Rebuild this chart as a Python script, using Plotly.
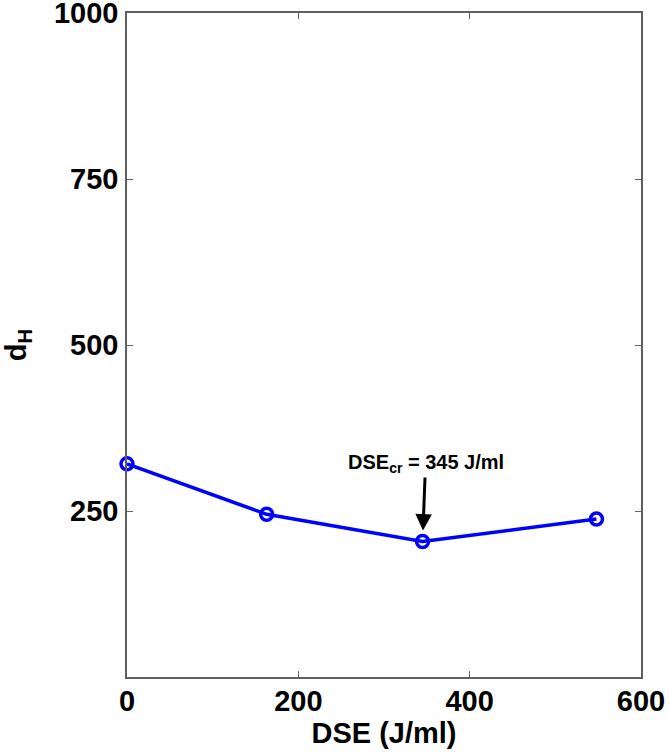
import plotly.graph_objects as go

# DSE (J/ml) vs d_H
dse = [0, 163, 345, 548]
d_h = [321, 245, 204, 238]

x_ticks = [0, 200, 400, 600]
y_ticks = [250, 500, 750, 1000]

FONT = "Liberation Sans, Arial, Helvetica, sans-serif"
AXIS_GREY = "#5f5f5f"

fig = go.Figure()
fig.add_trace(
    go.Scatter(
        x=dse,
        y=d_h,
        mode="lines+markers",
        line=dict(color="#0000ff", width=3.5),
        marker=dict(symbol="circle-open", size=12, color="#0000ff", line=dict(width=3.5)),
        cliponaxis=False,
        showlegend=False,
    )
)

fig.add_annotation(
    x=dse[2],
    y=d_h[2],
    text="<b>DSE<sub>cr</sub> = 345 J/ml</b>",
    font=dict(family=FONT, size=20, color="black"),
    showarrow=True,
    ax=3,
    ay=-78,
    arrowhead=2,
    arrowsize=1.1,
    arrowwidth=3,
    arrowcolor="black",
    standoff=11,
)

axis_common = dict(
    showgrid=False,
    zeroline=False,
    showline=True,
    linecolor=AXIS_GREY,
    linewidth=1.5,
    mirror="ticks",
    ticks="inside",
    ticklen=6,
    tickwidth=1.2,
    tickcolor=AXIS_GREY,
    automargin=False,
    ticklabeloverflow="allow",
    tickfont=dict(family=FONT, size=29, color="black", weight="bold"),
)

fig.update_layout(
    width=669,
    height=755,
    margin=dict(l=127, r=28, t=13, b=78),
    paper_bgcolor="white",
    plot_bgcolor="white",
    font=dict(family=FONT, color="black"),
    xaxis=dict(
        range=[0, 600],
        tickvals=x_ticks,
        ticklabelstandoff=-3,
        title=dict(
            text="<b>DSE (J/ml)</b>",
            font=dict(family=FONT, size=29, color="black"),
            standoff=0,
        ),
        **axis_common,
    ),
    yaxis=dict(
        range=[0, 1000],
        tickvals=y_ticks,
        ticklabelstandoff=1,
        title=dict(
            text="<b>d<sub>H</sub></b>",
            font=dict(family=FONT, size=29, color="black"),
            standoff=22,
        ),
        **axis_common,
    ),
)

# drop the browser's default 8px body margin so the figure fills the window
fig.write_html(
    "out.html",
    config={"displayModeBar": False},
    post_script="document.body.style.margin = '0px';",
)
